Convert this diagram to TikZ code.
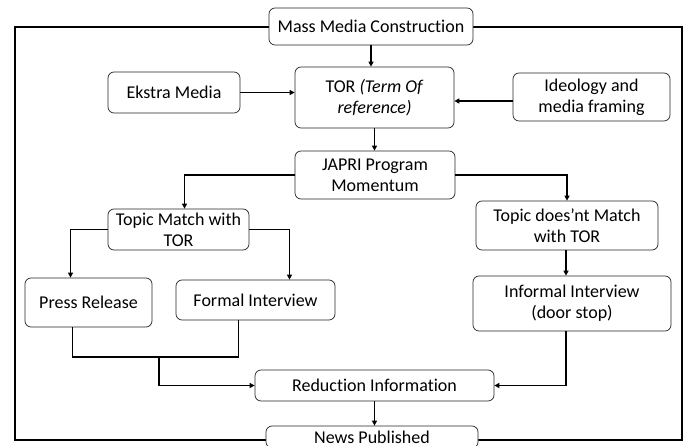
\documentclass[tikz,border=0pt]{standalone}
\usepackage{fontspec}
\setmainfont{Carlito}[RawFeature=-liga]
\usepackage{tikz}
\usetikzlibrary{arrows.meta}

\begin{document}
\begin{tikzpicture}[x=1pt,y=-1pt,font=\fontsize{18}{21}\selectfont,
box/.style n args={2}{draw=black!85,line width=0.7pt,fill=white,rounded corners=6pt,align=center,inner sep=2pt,minimum width=#1pt,minimum height=#2pt,rectangle},
link/.style={line width=1.6pt},
arr/.style={link,-{Triangle[length=5pt,width=5pt]}}]
\useasboundingbox (0,0) rectangle (688,446);
\draw[line width=1.6pt] (15,27) rectangle (682,440);
   \node[box={204}{37}](mmc) at(371,26.5) {Mass Media Construction};
   \node[box={132}{41}](ekstra) at(174,92.5) {Ekstra Media};
   \node[box={159}{61}](tor) at(374.5,97.5) {TOR \textit{(Term Of}\\\textit{reference)}};
   \node[box={157}{48}](ideo) at(591.5,97) {Ideology and\\media framing};
   \node[box={160}{48}](japri) at(375,175) {JAPRI Program\\Momentum};
   \node[box={141}{41}](tm) at(178.5,229.5) {Topic Match with\\TOR};
   \node[box={182}{49}](tn) at(567,225.5) {Topic does'nt Match\\with TOR};
   \node[box={127}{49}](press) at(88.5,302.5) {Press Release};
   \node[box={159}{40}](formal) at(255.5,300) {Formal Interview};
   \node[box={198}{55}](inf) at(572,303.5) {Informal Interview\\(door stop)};
   \node[box={239}{31}](red) at(374.5,385.5) {Reduction Information};
   \node[box={212}{22},inner sep=0pt](news) at(372,437) {News Published};
\coordinate (mrg) at(159,357);
\draw[arr] (mmc.south) -- (mmc.south |- tor.north);
\draw[arr] (ekstra.east) -- (ekstra.east -| tor.west);
\draw[arr] ([yshift=-4pt]ideo.west) -- ([yshift=-4pt]ideo.west -| tor.east);
\draw[arr] (tor.south) -- (tor.south |- japri.north);
\draw[arr] (japri.west) -| ([xshift=6pt]tm.north);
\draw[arr] (japri.east) -| (tn.north);
\draw[arr] (tm.west) -| ([xshift=-18pt]press.north);
\draw[arr] (tm.east) -| ([xshift=34pt]formal.north);
\draw[arr] ([xshift=-1pt]tn.south) -- ([xshift=-1pt]tn.south |- inf.north);
\draw[link] ([xshift=-16pt]press.south) |- ([xshift=-17pt]formal.south |- mrg) -- ([xshift=-17pt]formal.south);
\draw[arr] (mrg) |- (red.west);
\draw[arr] ([xshift=-6pt]inf.south) |- (red.east);
\draw[arr] (red.south) -- (red.south |- news.north);
\end{tikzpicture}
\end{document}
